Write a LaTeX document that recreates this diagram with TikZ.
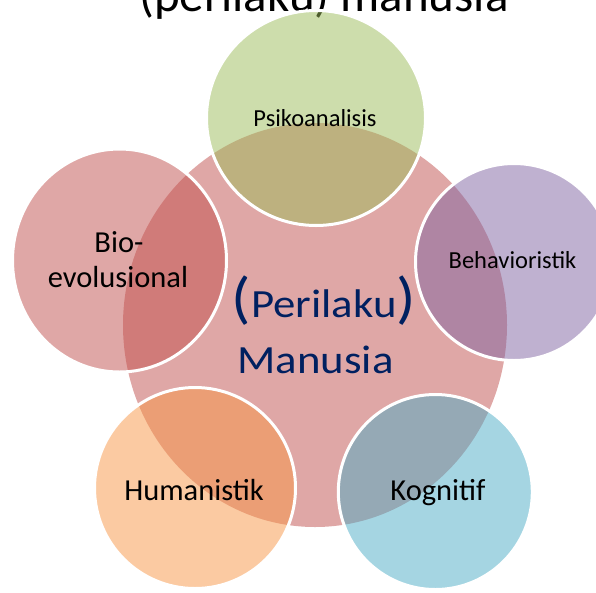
\documentclass[tikz,border=0pt]{standalone}
\usepackage{fontspec}
\setmainfont{Carlito}
\newfontfamily\widefont[FakeStretch=1.12]{Carlito}
\usetikzlibrary{shapes.geometric}

% Office theme accents
\definecolor{accRed}{HTML}{C0504D}
\definecolor{accGreen}{HTML}{9BBB59}
\definecolor{accPurple}{HTML}{8064A2}
\definecolor{accAqua}{HTML}{4BACC6}
\definecolor{accOrange}{HTML}{F79646}
\definecolor{navy}{HTML}{002060}

\begin{document}
\begin{tikzpicture}[x=1pt,y=-1pt,
  hub/.style={ellipse, inner sep=0pt, draw=none, fill=accRed, fill opacity=0.5},
  petal/.style={ellipse, inner sep=0pt, fill opacity=0.5, draw=white,
    draw opacity=1, line width=3pt},
  biglbl/.style={anchor=base, inner sep=0pt, text=black,
    font=\fontsize{30.5}{34.5}\selectfont},
  smalllbl/.style={anchor=base, inner sep=0pt, text=black,
    font=\fontsize{24.5}{28}\selectfont},
  corelbl/.style={anchor=base, inner sep=0pt, text=navy,
    font=\widefont\fontsize{40}{44}\selectfont}]

\useasboundingbox (0,0) rectangle (596,592);
\clip (0,0) rectangle (596,592);

% heading, mostly above the visible area
\node[anchor=base, inner sep=0pt, font=\fontsize{49}{55}\selectfont]
  (title) at (324,11) {(perilaku) manusia};

% central disc
\node[hub, minimum width=384pt, minimum height=404pt] (core) at (315,325) {};

% surrounding discs
\node[petal, fill=accGreen,  minimum width=219pt, minimum height=215pt] (psi) at (316,118) {};
\node[petal, fill=accPurple, minimum width=197pt, minimum height=197pt] (beh) at (514,262) {};
\node[petal, fill=accAqua,   minimum width=194pt, minimum height=195pt] (kog) at (435.3,492) {};
\node[petal, fill=accOrange, minimum width=201pt, minimum height=201pt] (hum) at (195,488) {};
\node[petal, fill=accRed,    minimum width=214pt, minimum height=223pt] (bio) at (119.5,260.5) {};

% labels
\node[smalllbl] (psiT) at (315,126) {Psikoanalisis};
\node[smalllbl] (behT) at (512.5,268) {Behavioristik};
\node[biglbl] (kogT) at (438,500) {Kognitif};
\node[biglbl] (humT) at (194,500) {Humanistik};
\node[biglbl] (bioA) at (119,252) {Bio-};
\node[biglbl] (bioB) at (118,287) {evolusional};

% central caption
\node[corelbl] (coreA) at (324,317)
  {{\fontsize{57}{60}\selectfont(}Perilaku{\fontsize{57}{60}\selectfont)}};
\node[corelbl] (coreB) at (315.5,373) {Manusia};
\end{tikzpicture}
\end{document}
